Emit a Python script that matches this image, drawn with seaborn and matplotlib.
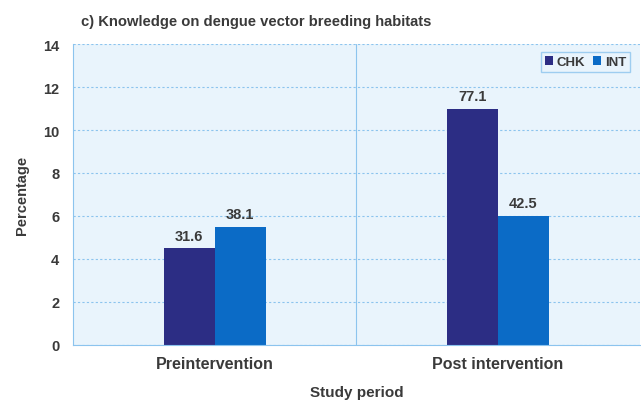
import pandas as pd
import seaborn as sns
import matplotlib.pyplot as plt

# dati
periodi = ["Preintervention", "Post intervention"]
gruppi = ["CHK", "INT"]
altezze_chk = [4.5, 11.0]
altezze_int = [5.5, 6.0]
etichette_chk = ["31.6", "77.1"]
etichette_int = ["38.1", "42.5"]

df = pd.DataFrame({
    "periodo": periodi * 2,
    "gruppo": ["CHK"] * 2 + ["INT"] * 2,
    "valore": altezze_chk + altezze_int,
})

sns.set_style("white")
plt.rcParams['font.family'] = ['Liberation Sans', 'DejaVu Sans']
testo = "#3a3a3a"

fig = plt.figure(figsize=(6.41, 4.06), dpi=100)
ax = fig.add_axes([0.114, 0.148, 0.884, 0.741])
ax.set_facecolor("#e9f4fc")

sns.barplot(data=df, x="periodo", y="valore", hue="gruppo", hue_order=gruppi,
            palette=["#2c2d84", "#0b6bc6"], width=0.36, saturation=1,
            linewidth=0, ax=ax)

for cont, lab in zip(ax.containers, [etichette_chk, etichette_int]):
    ax.bar_label(cont, labels=lab, padding=4, fontsize=10.5, fontweight="bold", color=testo)

ax.set_ylim(0, 14)
ax.set_yticks(range(0, 15, 2))
ax.set_xlim(-0.5, 1.5)
ax.yaxis.grid(True, color="#8cc4ee", linestyle=(0, (2, 2)), linewidth=0.8)
ax.set_axisbelow(True)
ax.axvline(0.5, color="#8cc4ee", linewidth=0.8)
for s in ["top", "right"]:
    ax.spines[s].set_visible(False)
ax.spines["left"].set_color("#8cc4ee")
ax.spines["bottom"].set_color("#8cc4ee")
ax.tick_params(axis="y", length=5, color="#5aa8e8", labelsize=10.5, labelcolor=testo, pad=5)
ax.tick_params(axis="x", length=0, labelsize=11.5, labelcolor=testo, pad=8)
for t in ax.get_xticklabels() + ax.get_yticklabels():
    t.set_fontweight("bold")

ax.set_xlabel("Study period", fontsize=11, fontweight="bold", color=testo, labelpad=10)
ax.set_ylabel("Percentage", fontsize=10.5, fontweight="bold", color=testo, labelpad=10)

leg = ax.legend(loc="upper right", ncol=2, frameon=True, fontsize=9.5,
                handlelength=0.6, handleheight=0.6, handletextpad=0.3,
                columnspacing=0.6, borderpad=0.3, fancybox=False,
                bbox_to_anchor=(0.995, 0.995))
leg.get_frame().set_edgecolor("#8cc4ee")
leg.get_frame().set_facecolor("#e9f4fc")
for t in leg.get_texts():
    t.set_color(testo)
    t.set_fontweight("bold")

fig.text(0.126, 0.945, "c) Knowledge on dengue vector breeding habitats",
         fontsize=10.6, fontweight="bold", color=testo, ha="left", va="center")

fig.savefig("out.png", dpi=100)
